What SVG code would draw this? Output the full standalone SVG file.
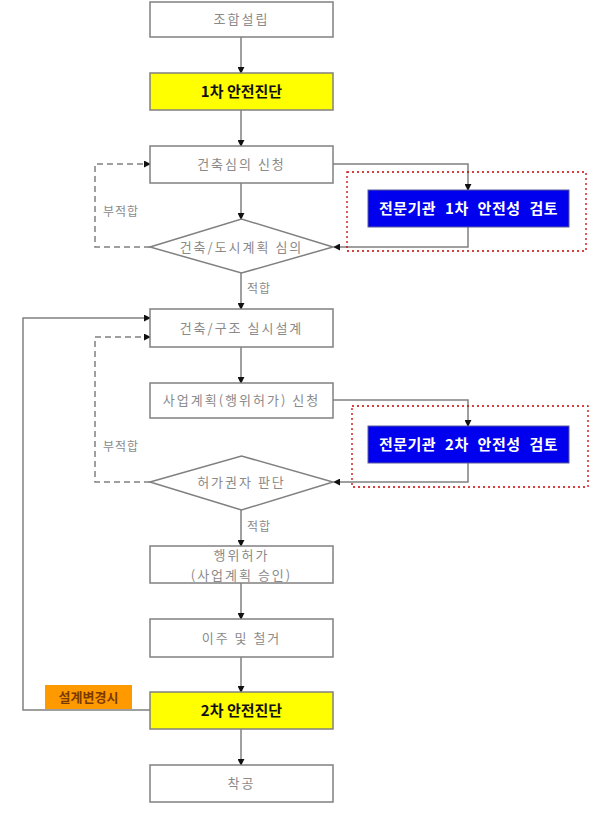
<svg xmlns="http://www.w3.org/2000/svg" width="602" height="824" viewBox="0 0 602 824">
<defs>
<style>
.box{fill:#fff;stroke:#808080;stroke-width:1.5}
.yel{fill:#ffff00;stroke:#808080;stroke-width:1.5}
.blue{fill:#0000ee;stroke:#5a5a9a;stroke-width:1}
.lbl{font-family:"Noto Sans CJK KR","Liberation Sans",sans-serif;font-size:13px;fill:#8a8a8a;text-anchor:middle;letter-spacing:2px}
.bold{font-family:"Noto Sans CJK KR","Liberation Sans",sans-serif;font-size:15px;font-weight:bold;fill:#111;text-anchor:middle}
.white{font-family:"Noto Sans CJK KR","Liberation Sans",sans-serif;font-size:15px;font-weight:bold;fill:#fff;text-anchor:middle;word-spacing:5px;letter-spacing:0.5px}
.small{font-family:"Noto Sans CJK KR","Liberation Sans",sans-serif;font-size:12px;fill:#8a8a8a;letter-spacing:1px}
.ln{fill:none;stroke:#808080;stroke-width:1.5}
.dash{fill:none;stroke:#808080;stroke-width:1.5;stroke-dasharray:6,4}
.dot{fill:none;stroke:#cc0000;stroke-width:1.3;stroke-dasharray:2,3}
</style>
<marker id="ar" viewBox="0 0 8 8" refX="7" refY="4" markerWidth="7" markerHeight="7" markerUnits="userSpaceOnUse" orient="auto">
<path d="M0,0 L8,4 L0,8 z" fill="#111"/>
</marker>
</defs>
<rect width="602" height="824" fill="#fff"/>

<g id="connectors">
<path class="ln" d="M241,37 V73" marker-end="url(#ar)"/>
<path class="ln" d="M241,110 V146" marker-end="url(#ar)"/>
<path class="ln" d="M241,183 V219" marker-end="url(#ar)"/>
<path class="ln" d="M333,164 H468 V190" marker-end="url(#ar)"/>
<path class="ln" d="M468,227 V247 H334" marker-end="url(#ar)"/>
<path class="dash" d="M150,247 H95 V164 H150" marker-end="url(#ar)"/>
<path class="ln" d="M241,273 V309" marker-end="url(#ar)"/>
<path class="ln" d="M241,347 V383" marker-end="url(#ar)"/>
<path class="ln" d="M333,400 H468 V426" marker-end="url(#ar)"/>
<path class="ln" d="M468,463 V482 H334" marker-end="url(#ar)"/>
<path class="dash" d="M150,482 H95 V337 H150" marker-end="url(#ar)"/>
<path class="ln" d="M150,710 H23 V318 H150" marker-end="url(#ar)"/>
<path class="ln" d="M241,510 V546" marker-end="url(#ar)"/>
<path class="ln" d="M241,583 V619" marker-end="url(#ar)"/>
<path class="ln" d="M241,657 V692" marker-end="url(#ar)"/>
<path class="ln" d="M241,729 V765" marker-end="url(#ar)"/>
<text class="small" x="103" y="216">부적합</text>
<text class="small" x="103" y="451">부적합</text>
<text class="small" x="247" y="293">적합</text>
<text class="small" x="247" y="531">적합</text>
</g>

<g id="n1"><rect class="box" x="150" y="2" width="183" height="35"/><text class="lbl" x="241.5" y="24">조합설립</text></g>
<g id="n2"><rect class="yel" x="150" y="73" width="183" height="37"/><text class="bold" x="241.5" y="97">1차 안전진단</text></g>
<g id="n3"><rect class="box" x="150" y="146" width="183" height="37"/><text class="lbl" x="241.5" y="169">건축심의 신청</text></g>
<g id="n4"><path class="box" d="M150,247 L241.5,219 L333,247 L241.5,273 Z"/><text class="lbl" x="241.5" y="252">건축/도시계획 심의</text></g>
<g id="r1"><rect class="dot" x="347" y="172" width="239" height="79"/><rect class="blue" x="368" y="190" width="201" height="37"/><text class="white" x="468.5" y="214">전문기관 1차 안전성 검토</text></g>
<g id="n5"><rect class="box" x="150" y="309" width="183" height="38"/><text class="lbl" x="241.5" y="333">건축/구조 실시설계</text></g>
<g id="n6"><rect class="box" x="150" y="383" width="183" height="35"/><text class="lbl" x="241.5" y="405">사업계획(행위허가) 신청</text></g>
<g id="n7"><path class="box" d="M150,482 L241.5,456 L333,482 L241.5,510 Z"/><text class="lbl" x="241.5" y="487">허가권자 판단</text></g>
<g id="r2"><rect class="dot" x="352" y="406" width="236" height="81"/><rect class="blue" x="368" y="426" width="201" height="37"/><text class="white" x="468.5" y="450">전문기관 2차 안전성 검토</text></g>
<g id="n8"><rect class="box" x="150" y="546" width="183" height="37"/><text class="lbl" x="241.5" y="560">행위허가</text><text class="lbl" x="241.5" y="580">(사업계획 승인)</text></g>
<g id="n9"><rect class="box" x="150" y="619" width="183" height="38"/><text class="lbl" x="241.5" y="643">이주 및 철거</text></g>
<g id="n10"><rect class="yel" x="150" y="692" width="183" height="37"/><text class="bold" x="241.5" y="716">2차 안전진단</text></g>
<g id="tag"><rect x="45" y="685" width="87" height="24" fill="#ff9900"/><text x="88.5" y="702" font-family="Noto Sans CJK KR, Liberation Sans, sans-serif" font-size="13" font-weight="bold" fill="#7a3a00" text-anchor="middle">설계변경시</text></g>
<g id="n11"><rect class="box" x="150" y="765" width="183" height="37"/><text class="lbl" x="241.5" y="788">착공</text></g>
</svg>
